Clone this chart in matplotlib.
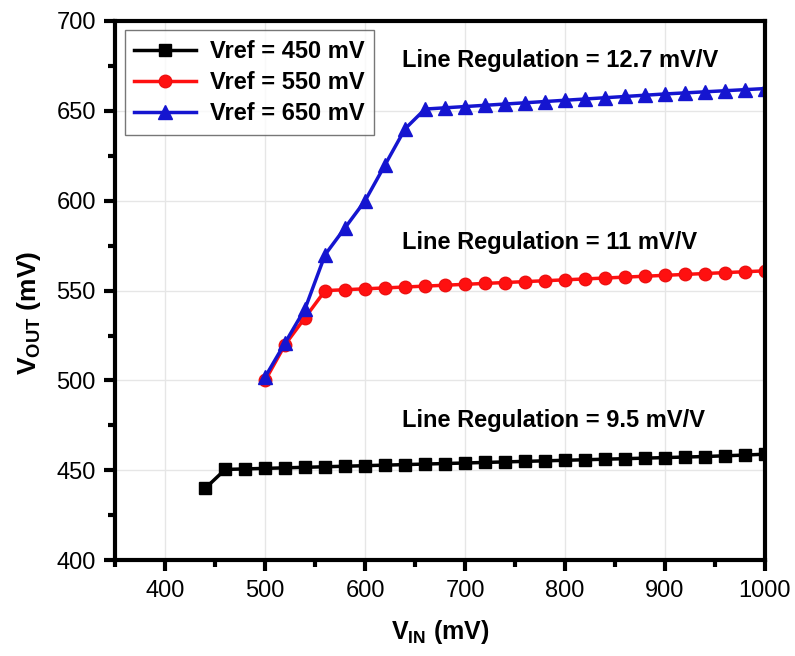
import matplotlib
matplotlib.use('Agg')
import matplotlib.pyplot as plt
from matplotlib.ticker import MultipleLocator

plt.rcParams['font.family'] = ['Liberation Sans', 'DejaVu Sans']
plt.rcParams['mathtext.fontset'] = 'custom'
plt.rcParams['mathtext.rm'] = 'Liberation Sans'
plt.rcParams['mathtext.bf'] = 'Liberation Sans:bold'

# dados
vin_450 = [440, 460, 480, 500, 520, 540, 560, 580, 600, 620, 640, 660, 680, 700, 720,
           740, 760, 780, 800, 820, 840, 860, 880, 900, 920, 940, 960, 980, 1000]
vout_450 = [440.0, 450.5, 450.8, 451.1, 451.4, 451.7, 452.0, 452.3, 452.6, 452.9, 453.2,
            453.5, 453.8, 454.1, 454.4, 454.7, 455.0, 455.3, 455.6, 455.9, 456.2, 456.5,
            456.8, 457.1, 457.4, 457.7, 458.1, 458.5, 459.0]

vin_550 = [500, 520, 540, 560, 580, 600, 620, 640, 660, 680, 700, 720, 740, 760, 780,
           800, 820, 840, 860, 880, 900, 920, 940, 960, 980, 1000]
vout_550 = [500.0, 520.0, 535.0, 550.0, 550.5, 551.0, 551.5, 552.0, 552.5, 553.0, 553.5,
            554.0, 554.5, 555.0, 555.5, 556.0, 556.5, 557.0, 557.5, 558.0, 558.5, 559.0,
            559.5, 560.0, 560.5, 561.0]

vin_650 = vin_550
vout_650 = [502.0, 521.0, 540.0, 570.0, 585.0, 600.0, 620.0, 640.0, 651.0, 651.7, 652.4,
            653.1, 653.8, 654.5, 655.2, 655.9, 656.6, 657.3, 658.0, 658.7, 659.4, 660.0,
            660.6, 661.2, 661.8, 662.4]

labels = ['Vref = 450 mV', 'Vref = 550 mV', 'Vref = 650 mV']
notas = ['Line Regulation = 9.5 mV/V', 'Line Regulation = 11 mV/V', 'Line Regulation = 12.7 mV/V']
nota_y = [478, 577, 678]


def main():
    fig = plt.figure(figsize=(7.95, 6.56), dpi=100)
    ax = fig.add_subplot(111)
    fig.subplots_adjust(left=0.145, right=0.962, top=0.968, bottom=0.146)

    ax.plot(vin_450, vout_450, '-s', color='black', lw=2.5, ms=8, label=labels[0])
    ax.plot(vin_550, vout_550, '-o', color='#ff1010', mec='#ee1010', lw=2.5, ms=9, label=labels[1])
    ax.plot(vin_650, vout_650, '-^', color='#1515d0', lw=2.5, ms=10, label=labels[2])

    for txt, y in zip(notas, nota_y):
        ax.text(637, y, txt, fontsize=17, fontweight='bold', va='center', ha='left')

    ax.set_xlim(350, 1000)
    ax.set_ylim(400, 700)
    ax.xaxis.set_major_locator(MultipleLocator(100))
    ax.xaxis.set_minor_locator(MultipleLocator(50))
    ax.yaxis.set_major_locator(MultipleLocator(50))
    ax.yaxis.set_minor_locator(MultipleLocator(25))
    ax.grid(True, which='major', color='#e6e6e6', lw=1)
    ax.set_axisbelow(True)

    for s in ax.spines.values():
        s.set_linewidth(3)
    ax.tick_params(which='major', direction='out', length=8, width=3, labelsize=17, pad=6)
    ax.tick_params(which='minor', direction='out', length=5, width=3)
    ax.tick_params(top=False, right=False)
    ax.set_xticks([x for x in range(400, 1001, 100)])

    ax.set_xlabel(r'V$_{\mathregular{IN}}$ (mV)', fontsize=18, fontweight='bold', labelpad=12)
    ax.set_ylabel(r'V$_{\mathregular{OUT}}$ (mV)', fontsize=19, fontweight='bold')
    ax.yaxis.set_label_coords(-0.112, 0.458)

    leg = ax.legend(loc='upper left', prop={'weight': 'bold', 'size': 17},
                    frameon=True, fancybox=False, edgecolor='#555555',
                    borderaxespad=0.4, handlelength=2.6, labelspacing=0.35,
                    borderpad=0.4, handletextpad=0.6)
    leg.get_frame().set_linewidth(1)

    plt.savefig('out.png', dpi=100)


if __name__ == "__main__":
    main()
